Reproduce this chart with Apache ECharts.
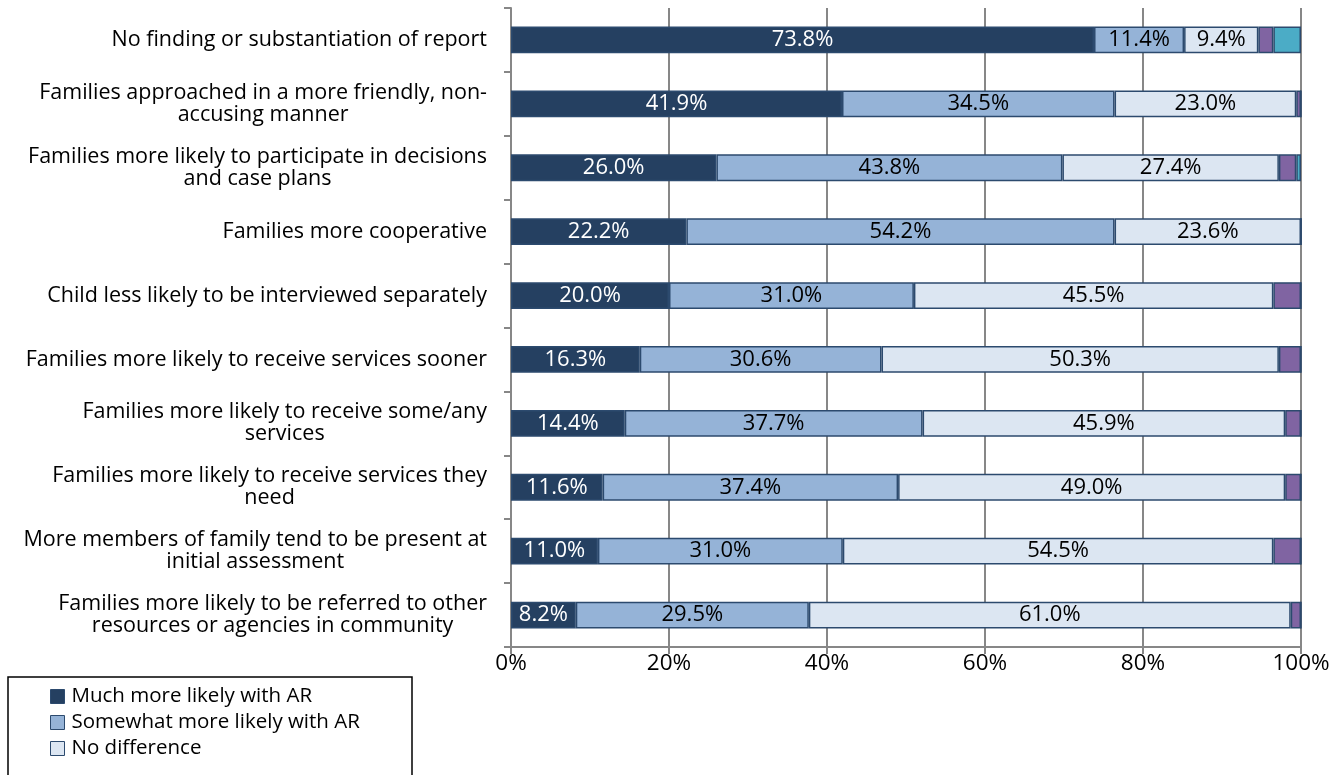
<!DOCTYPE html>
<html>
<head>
<meta charset="utf-8">
<script src="https://cdn.jsdelivr.net/npm/echarts@6/dist/echarts.min.js"></script>
<style>
  html, body { margin: 0; padding: 0; background: #fff; }
  #chart { width: 1341px; height: 775px; }
</style>
</head>
<body>
<div id="chart"></div>
<script>
// categories, top to bottom as in the picture
const categories = [
  'No finding or substantiation of report',
  'Families approached in a more friendly, non-\naccusing manner',
  'Families more likely to participate in decisions\nand case plans',
  'Families more cooperative',
  'Child less likely to be interviewed separately',
  'Families more likely to receive services sooner',
  'Families more likely to receive some/any\nservices',
  'Families more likely to receive services they\nneed',
  'More members of family tend to be present at\ninitial assessment',
  'Families more likely to be referred to other\nresources or agencies in community'
]
const seriesNames = ['Much more likely with AR', 'Somewhat more likely with AR', 'No difference', 'Less likely with AR', "Don't know"]
const muchMore  = [73.8, 41.9, 26.0, 22.2, 20.0, 16.3, 14.4, 11.6, 11.0, 8.2]
const somewhat  = [11.4, 34.5, 43.8, 54.2, 31.0, 30.6, 37.7, 37.4, 31.0, 29.5]
const noDiff    = [9.4, 23.0, 27.4, 23.6, 45.5, 50.3, 45.9, 49.0, 54.5, 61.0]
const lessLikely = [1.9, 0.6, 2.2, 0, 3.5, 2.8, 2.0, 2.0, 3.5, 1.3]
const dontKnow  = [3.5, 0, 0.6, 0, 0, 0, 0, 0, 0, 0]
const xTicks = [0, 20, 40, 60, 80, 100]

const colors = ['#254061', '#95b3d7', '#dce6f2', '#8064a2', '#4bacc6']
const labelColors = ['#ffffff', '#000000', '#000000', '#000000', '#000000']
const seriesData = [muchMore, somewhat, noDiff, lessLikely, dontKnow]
const font = 'Open Sans'

const chart = echarts.init(document.getElementById('chart'))

const series = seriesData.map((vals, i) => ({
  name: seriesNames[i],
  type: 'bar',
  stack: 'total',
  barWidth: '42%',
  data: vals,
  itemStyle: { color: colors[i], borderColor: '#2c4a6e', borderWidth: 1.5 },
  label: {
    show: i < 3,
    position: 'inside',
    color: labelColors[i],
    fontFamily: font,
    fontSize: 22,
    formatter: p => p.value.toFixed(1) + '%'
  },
  emphasis: { disabled: true }
}))

// one legend per row, the box round them runs off the bottom like the picture
const legends = seriesNames.slice(0, 3).map((name, i) => ({
  data: [name],
  left: 50,
  top: 686 + i * 26,
  padding: 0,
  itemWidth: 14,
  itemHeight: 14,
  itemGap: 4,
  icon: 'rect',
  selectedMode: false,
  itemStyle: { borderColor: '#2c4a6e', borderWidth: 1 },
  textStyle: { fontFamily: font, fontSize: 20.5, color: '#000', padding: [0, 0, 0, 2] }
}))

chart.setOption({
  animation: false,
  grid: { left: 511, right: 40, top: 8, bottom: 128, containLabel: false },
  legend: legends,
  graphic: [{
    type: 'rect',
    shape: { x: 8, y: 677, width: 404, height: 140 },
    style: { fill: 'none', stroke: '#000', lineWidth: 1.5 },
    silent: true
  }],
  xAxis: {
    type: 'value',
    min: 0,
    max: 100,
    interval: 20,
    axisLine: { show: true, lineStyle: { color: '#878787', width: 2 } },
    axisTick: { show: true, length: 7, lineStyle: { color: '#878787', width: 2 } },
    splitLine: { show: true, lineStyle: { color: '#878787', width: 2 } },
    axisLabel: {
      margin: 5,
      fontFamily: font,
      fontSize: 22.5,
      color: '#000',
      formatter: v => xTicks.includes(v) ? v + '%' : ''
    }
  },
  yAxis: {
    type: 'category',
    inverse: true,
    data: categories,
    axisLine: { show: true, lineStyle: { color: '#878787', width: 2 } },
    axisTick: { show: true, length: 7, lineStyle: { color: '#878787', width: 2 } },
    axisLabel: {
      margin: 24,
      color: '#000',
      fontFamily: font,
      fontSize: 21.5,
      lineHeight: 22,
      formatter: v => v.split('\n').map(s => '{c|' + s + '}').join('\n'),
      rich: { c: { align: 'center', fontFamily: font, fontSize: 21.5, lineHeight: 22, color: '#000' } }
    }
  },
  series
})
</script>
</body>
</html>
